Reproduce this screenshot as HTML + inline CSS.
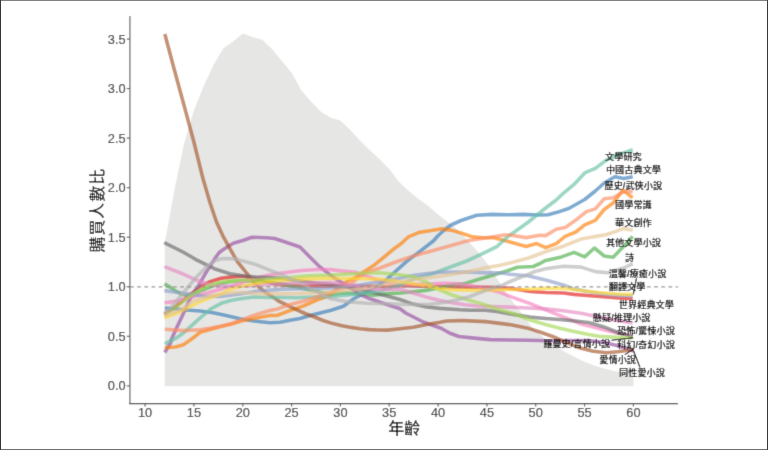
<!DOCTYPE html>
<html><head><meta charset="utf-8"><style>
html,body{margin:0;padding:0;background:#fff;}
#wrap{position:relative;width:768px;height:450px;overflow:hidden;background:#fff;}
svg{position:absolute;left:0;top:0;}
.tk{font-family:"Liberation Sans",Arial,sans-serif;font-size:12.8px;fill:#333;stroke:#333;stroke-width:0.12px;}
.lab{font-family:"Liberation Sans","Noto Sans CJK TC",sans-serif;font-size:9.2px;font-weight:700;fill:#111;}
.ttl{font-family:"Liberation Sans","Noto Sans CJK TC",sans-serif;font-size:16px;font-weight:500;fill:#000;}
.b{position:absolute;}
</style></head><body><div id="wrap">
<svg width="768" height="450" viewBox="0 0 768 450">
<defs><filter id="bl" x="0" y="0" width="768" height="450" filterUnits="userSpaceOnUse"><feConvolveMatrix order="3" kernelMatrix="0.01440 0.09120 0.01440 0.09120 0.57760 0.09120 0.01440 0.09120 0.01440" divisor="1" edgeMode="duplicate" preserveAlpha="false"/></filter></defs>
<g filter="url(#bl)">
<rect x="0" y="0" width="768" height="450" fill="#fff"/>
<polygon points="164.8,386.3 164.8,243.0 174.4,190.0 184.2,143.0 193.9,110.5 203.7,86.0 213.5,65.0 223.2,48.5 233.0,41.5 242.8,33.5 252.5,37.0 262.3,39.7 272.1,49.0 281.8,61.0 291.6,72.5 301.4,90.5 311.1,101.5 320.9,111.7 330.7,117.8 340.4,120.5 350.2,130.0 360.0,140.5 369.7,150.0 379.5,159.0 389.3,169.0 399.0,182.0 408.8,191.0 418.6,199.0 428.3,206.0 438.1,214.5 447.9,222.0 457.6,229.5 467.4,240.0 477.2,251.0 486.9,263.0 496.7,278.0 506.5,293.0 516.2,306.5 526.0,318.5 530.0,325.0 535.8,330.5 540.0,334.0 545.5,339.5 553.3,344.7 560.0,349.0 566.7,352.7 574.8,357.0 580.0,359.8 584.6,361.8 594.3,365.5 604.1,368.6 613.9,370.9 623.6,372.5 633.4,373.4 633.4,386.3" fill="#e6e6e5"/>
<polyline points="164.4,314.4 176.7,305.6 187.8,296.7 198.9,287.8 210.0,281.7 221.1,278.3 232.2,276.9 243.0,276.3 256.0,279.0 275.6,284.1 288.6,285.4 301.6,286.1 330.0,286.1 390.0,286.5 400.0,285.5 430.0,286.5 468.9,287.1 500.0,287.5 510.0,288.2 530.0,291.5 545.6,292.5 563.3,293.0 574.0,294.4 590.0,295.8 603.3,296.8 618.0,298.0 632.7,298.8" fill="none" stroke="#E41A1C" stroke-opacity="0.65" stroke-width="3.6" stroke-linejoin="round" stroke-linecap="butt"/>
<polyline points="164.7,308.0 175.6,309.0 186.7,310.0 200.0,311.0 213.3,312.7 226.0,315.5 240.0,318.7 253.8,321.0 270.0,322.7 280.0,322.3 290.0,320.3 300.0,318.5 310.0,315.5 320.0,313.0 331.1,310.2 343.3,306.2 350.0,301.5 354.2,298.5 366.7,292.0 380.9,284.0 390.5,275.8 406.7,261.3 420.9,250.7 433.3,241.0 438.7,235.0 445.6,229.0 451.1,225.0 461.1,220.5 476.7,215.2 492.2,214.4 507.8,214.8 523.3,214.4 540.0,215.0 548.0,214.8 556.2,212.6 568.7,208.5 584.7,199.5 595.3,191.0 604.2,183.0 614.9,176.8 623.8,178.5 632.7,176.8" fill="none" stroke="#377EB8" stroke-opacity="0.65" stroke-width="3.6" stroke-linejoin="round" stroke-linecap="butt"/>
<polyline points="164.4,283.9 171.1,287.8 176.7,291.7 182.2,294.4 187.8,295.4 194.0,294.2 200.0,291.2 215.0,285.0 228.0,282.0 240.0,280.8 255.0,281.0 270.0,282.2 285.0,284.5 299.0,287.8 315.0,291.0 331.0,294.2 347.0,292.7 357.8,294.0 373.0,295.3 387.8,293.6 400.0,293.0 413.0,291.7 426.0,290.4 440.0,287.5 451.1,285.3 465.1,283.5 478.1,279.5 486.7,277.0 500.0,273.0 506.7,271.0 517.3,267.3 533.3,266.5 540.0,263.5 545.6,260.4 561.6,256.9 574.0,252.4 584.7,256.9 594.4,248.0 604.2,256.0 613.1,257.2 623.8,246.2 632.7,236.4" fill="none" stroke="#4DAF4A" stroke-opacity="0.65" stroke-width="3.6" stroke-linejoin="round" stroke-linecap="butt"/>
<polyline points="164.7,352.5 170.5,343.0 171.7,338.8 177.0,327.0 182.7,315.0 188.0,303.0 193.0,293.5 197.7,287.0 202.1,279.3 206.6,271.5 210.1,266.0 214.6,259.0 219.0,252.7 222.6,250.0 230.0,245.3 233.3,243.2 242.7,240.5 252.0,237.2 266.7,237.7 274.7,238.5 286.7,242.5 300.0,247.0 309.8,256.9 318.7,265.8 327.6,272.9 334.7,278.2 348.9,286.7 359.6,294.3 370.2,298.8 380.9,302.5 387.8,304.8 400.0,308.8 405.6,313.0 423.3,322.0 441.1,328.2 450.0,333.2 458.9,336.5 476.7,338.4 490.0,339.6 509.5,340.0 529.1,340.2 548.6,340.8 568.1,340.6 587.7,340.6 603.3,342.2 618.9,346.1 633.6,351.0" fill="none" stroke="#984EA3" stroke-opacity="0.65" stroke-width="3.6" stroke-linejoin="round" stroke-linecap="butt"/>
<polyline points="164.7,347.8 175.6,347.0 183.4,344.7 191.3,339.2 200.0,332.5 200.4,332.3 210.8,329.2 221.2,326.6 231.7,324.0 242.1,320.8 252.5,318.8 262.9,316.7 270.0,315.4 276.7,315.5 290.0,310.5 303.3,306.0 316.7,300.0 330.0,295.5 338.3,287.5 347.2,281.6 356.1,277.1 365.0,270.9 374.8,264.7 383.0,258.0 393.3,249.3 401.3,243.5 408.4,236.9 419.1,232.4 429.8,230.7 440.4,228.9 451.1,230.1 461.8,233.3 472.4,236.9 483.1,237.8 493.8,237.8 504.4,240.4 510.0,242.0 526.0,246.6 536.7,243.6 545.6,247.6 556.2,243.6 565.1,236.4 575.8,232.0 584.7,224.9 595.3,220.4 604.2,209.5 613.1,203.0 622.9,190.1 632.7,197.8" fill="none" stroke="#FF7F00" stroke-opacity="0.65" stroke-width="3.6" stroke-linejoin="round" stroke-linecap="butt"/>
<polyline points="164.8,34.0 174.4,70.0 184.2,106.0 193.9,142.0 202.8,178.0 210.1,203.0 216.4,221.8 222.6,235.3 228.9,246.8 237.2,261.4 245.6,271.9 253.0,281.0 259.5,287.6 266.0,292.8 276.7,299.5 278.2,300.9 290.0,306.6 296.4,309.6 305.0,313.5 314.6,317.0 323.0,320.5 332.9,323.6 342.0,325.8 351.1,327.4 360.0,328.7 369.3,329.6 378.0,330.0 387.5,330.1 400.0,328.8 413.3,327.2 426.7,324.5 440.0,322.3 446.7,321.0 460.0,320.6 464.2,320.6 485.6,321.6 500.0,323.4 509.5,324.6 529.1,328.6 540.0,332.0 553.3,336.7 566.7,342.7 580.0,348.0 593.3,351.3 606.7,352.7 620.0,351.5 633.6,349.5" fill="none" stroke="#A65628" stroke-opacity="0.65" stroke-width="3.6" stroke-linejoin="round" stroke-linecap="butt"/>
<polyline points="164.4,302.8 176.7,301.1 187.8,298.3 198.9,295.0 210.0,292.2 221.1,288.9 232.2,286.0 243.0,282.0 256.0,278.0 269.0,275.0 282.0,273.0 301.6,270.5 318.0,269.5 330.0,269.5 343.0,271.1 356.0,272.4 369.0,277.0 382.0,281.5 400.0,284.5 432.6,283.9 445.6,283.2 458.6,283.9 471.6,285.8 484.6,288.4 500.0,292.3 510.0,296.4 527.8,302.7 545.6,309.8 563.3,316.9 581.1,324.0 598.9,328.4 616.7,332.9 632.7,335.6" fill="none" stroke="#F781BF" stroke-opacity="0.65" stroke-width="3.6" stroke-linejoin="round" stroke-linecap="butt"/>
<polyline points="164.2,242.6 183.0,252.0 195.5,259.3 214.3,268.7 230.0,273.7 243.0,275.7 256.0,277.0 269.0,277.6 283.0,278.5 300.0,281.0 320.0,283.5 340.0,285.5 353.0,288.5 370.0,291.8 387.8,296.2 400.0,299.5 413.0,304.1 426.7,307.0 440.0,308.4 460.0,309.8 470.0,310.2 485.0,310.3 497.0,311.5 510.0,314.0 530.0,317.1 545.6,318.5 559.3,319.5 575.0,321.0 588.6,322.5 603.3,326.7 618.0,332.5 632.7,336.9" fill="none" stroke="#6c6c6c" stroke-opacity="0.65" stroke-width="3.6" stroke-linejoin="round" stroke-linecap="butt"/>
<polyline points="164.7,343.9 175.6,338.4 183.4,333.0 191.3,325.9 200.4,317.7 210.8,308.9 221.2,303.3 231.7,300.2 242.0,298.5 253.8,297.0 269.4,297.5 282.0,297.2 295.6,297.7 331.1,296.4 357.8,294.0 380.0,291.0 400.0,285.0 415.6,278.2 433.3,273.5 451.1,266.8 466.7,261.0 486.7,251.7 497.3,246.3 506.7,237.5 520.0,228.0 527.8,222.5 545.6,208.0 556.2,200.0 563.3,193.3 574.0,184.4 584.7,172.9 595.3,168.4 606.0,160.4 616.7,155.1 632.7,149.8" fill="none" stroke="#66C2A5" stroke-opacity="0.65" stroke-width="3.6" stroke-linejoin="round" stroke-linecap="butt"/>
<polyline points="164.7,329.3 183.4,330.6 190.0,330.2 200.4,329.7 210.8,328.1 221.2,326.0 231.7,323.4 242.1,319.8 252.5,315.6 262.9,312.5 270.0,310.4 276.7,309.3 290.0,304.5 303.3,301.3 316.7,297.0 330.0,292.5 340.0,289.5 350.0,285.0 358.0,278.0 366.7,272.5 380.0,268.0 397.8,261.3 415.6,255.2 433.3,250.5 451.1,245.5 468.9,240.5 486.7,237.8 504.4,235.0 510.0,235.0 526.0,237.6 540.0,235.3 545.6,235.6 556.2,229.3 565.1,227.6 577.6,218.7 586.4,211.6 595.3,208.9 604.2,198.7 613.1,197.8 623.8,191.6 632.7,191.6" fill="none" stroke="#FC8D62" stroke-opacity="0.65" stroke-width="3.6" stroke-linejoin="round" stroke-linecap="butt"/>
<polyline points="164.4,290.6 176.7,292.2 187.8,293.9 204.4,296.2 221.1,296.5 240.0,294.0 256.0,291.3 282.0,289.3 330.0,288.0 360.0,285.0 390.0,280.0 413.0,275.4 439.0,272.2 468.9,272.0 486.7,272.9 500.0,272.8 510.0,274.3 527.8,275.8 545.6,280.0 563.3,284.9 572.2,288.4 590.0,292.0 607.8,294.7 623.8,295.6 632.7,296.0" fill="none" stroke="#8DA0CB" stroke-opacity="0.65" stroke-width="3.6" stroke-linejoin="round" stroke-linecap="butt"/>
<polyline points="164.4,266.6 180.0,272.7 193.3,278.7 202.2,282.2 213.3,285.5 233.0,286.5 246.7,286.0 260.0,284.9 295.6,283.3 331.1,282.5 350.0,285.0 366.7,288.4 380.0,289.5 400.0,289.1 413.0,293.0 426.0,296.9 439.0,300.2 452.0,302.8 465.1,304.7 478.1,306.0 500.0,306.8 510.0,307.1 527.8,308.0 545.6,308.9 563.3,310.7 581.1,313.3 598.9,316.9 616.7,320.4 632.7,323.1" fill="none" stroke="#E78AC3" stroke-opacity="0.65" stroke-width="3.6" stroke-linejoin="round" stroke-linecap="butt"/>
<polyline points="164.4,315.6 182.2,302.2 193.3,293.9 204.4,287.2 215.6,283.3 226.7,281.1 240.0,280.2 256.0,280.2 282.0,278.3 308.1,275.7 330.0,275.0 366.7,273.0 380.0,272.9 400.0,274.8 413.0,276.7 426.0,281.9 439.0,289.7 452.0,295.0 465.1,298.9 478.1,302.8 490.0,306.5 500.0,309.8 515.0,314.0 530.0,320.0 545.6,324.5 560.0,328.3 574.0,331.5 588.6,334.5 598.9,336.2 616.7,337.3 632.7,338.0" fill="none" stroke="#A6D854" stroke-opacity="0.65" stroke-width="3.6" stroke-linejoin="round" stroke-linecap="butt"/>
<polyline points="164.4,317.8 176.7,313.3 187.8,307.8 198.9,302.2 210.0,297.8 221.1,293.9 230.0,289.3 243.0,286.1 256.0,283.5 269.0,281.5 282.0,280.2 308.1,278.9 330.0,278.3 366.7,278.7 380.0,279.1 400.0,281.9 426.0,285.8 439.0,288.4 452.0,289.7 478.0,290.4 500.0,289.7 527.8,289.3 545.6,288.4 563.3,288.1 581.1,290.5 598.9,292.5 616.7,294.0 632.7,294.4" fill="none" stroke="#FFD92F" stroke-opacity="0.65" stroke-width="3.6" stroke-linejoin="round" stroke-linecap="butt"/>
<polyline points="164.4,316.0 180.0,310.0 193.3,301.1 210.0,296.0 225.0,293.5 240.0,292.2 260.0,293.8 295.6,293.8 331.1,292.0 360.0,289.0 390.0,284.0 415.6,279.1 433.3,277.3 451.1,274.5 468.9,271.5 486.7,267.5 500.0,265.3 510.0,263.0 520.0,260.3 527.8,258.3 540.0,253.7 545.6,251.6 563.3,246.2 581.1,239.1 595.3,236.4 606.0,234.7 616.7,231.1 623.8,228.4 632.7,230.2" fill="none" stroke="#E5C494" stroke-opacity="0.65" stroke-width="3.6" stroke-linejoin="round" stroke-linecap="butt"/>
<polyline points="164.4,312.8 170.0,308.7 178.9,298.0 187.8,287.4 196.7,276.7 205.6,267.8 214.5,260.7 222.6,258.5 235.2,258.9 243.0,261.0 256.0,264.6 269.0,269.8 282.0,275.0 296.7,281.5 308.1,287.0 316.7,291.5 330.0,298.5 340.0,300.5 350.0,302.0 366.7,303.3 390.0,303.8 405.6,304.5 430.0,304.2 445.0,302.3 456.7,300.0 470.0,296.5 483.3,291.3 493.0,288.0 500.0,286.3 507.8,282.5 515.0,279.5 525.6,275.3 535.0,271.5 545.6,268.8 563.3,266.2 581.1,267.1 595.3,271.6 607.8,272.8 623.8,268.0 632.7,263.6" fill="none" stroke="#B3B3B3" stroke-opacity="0.65" stroke-width="3.6" stroke-linejoin="round" stroke-linecap="butt"/>
<line x1="130" y1="286.8" x2="678" y2="286.8" stroke="#959595" stroke-width="1.15" stroke-dasharray="3.7,3.48"/>
<line x1="636.5" y1="278.2" x2="633.3" y2="294.4" stroke="#000" stroke-width="1.1"/>
<line x1="611.5" y1="340.2" x2="633.3" y2="337.8" stroke="#000" stroke-width="1.1"/>
<line x1="624.8" y1="354.6" x2="633.5" y2="349.2" stroke="#000" stroke-width="1.1"/>
<line x1="633.5" y1="350.8" x2="640" y2="367.5" stroke="#000" stroke-width="1.1"/>
<text x="623.4" y="160.3" text-anchor="middle" class="lab">文學研究</text>
<text x="633.5" y="173.0" text-anchor="middle" class="lab">中國古典文學</text>
<text x="633.3" y="188.9" text-anchor="middle" class="lab">歷史/武俠小說</text>
<text x="633.4" y="208.2" text-anchor="middle" class="lab">國學常識</text>
<text x="633.4" y="226.3" text-anchor="middle" class="lab">華文創作</text>
<text x="633.5" y="246.0" text-anchor="middle" class="lab">其他文學小說</text>
<text x="629.5" y="260.9" text-anchor="middle" class="lab">詩</text>
<text x="637.5" y="276.9" text-anchor="middle" class="lab">溫馨/療癒小說</text>
<text x="627.1" y="289.9" text-anchor="middle" class="lab">翻譯文學</text>
<text x="646.4" y="307.6" text-anchor="middle" class="lab">世界經典文學</text>
<text x="621.7" y="320.8" text-anchor="middle" class="lab">懸疑/推理小說</text>
<text x="646.0" y="334.1" text-anchor="middle" class="lab">恐怖/驚悚小說</text>
<text x="576.7" y="347.3" text-anchor="middle" class="lab">羅曼史/言情小說</text>
<text x="646.0" y="347.7" text-anchor="middle" class="lab">科幻/奇幻小說</text>
<text x="617.7" y="362.5" text-anchor="middle" class="lab">愛情小說</text>
<text x="642.0" y="376.4" text-anchor="middle" class="lab">同性愛小說</text>
<line x1="129.9" y1="15.9" x2="129.9" y2="403.5" stroke="#8a8a8a" stroke-width="1.6"/>
<line x1="129.1" y1="403.7" x2="678" y2="403.7" stroke="#3a3a3a" stroke-width="1.3"/>
<line x1="126.8" y1="385.9" x2="129.9" y2="385.9" stroke="#555" stroke-width="1.1"/>
<text x="125.6" y="390.4" text-anchor="end" class="tk">0.0</text>
<line x1="126.8" y1="336.3" x2="129.9" y2="336.3" stroke="#555" stroke-width="1.1"/>
<text x="125.6" y="340.8" text-anchor="end" class="tk">0.5</text>
<line x1="126.8" y1="286.8" x2="129.9" y2="286.8" stroke="#555" stroke-width="1.1"/>
<text x="125.6" y="291.3" text-anchor="end" class="tk">1.0</text>
<line x1="126.8" y1="237.2" x2="129.9" y2="237.2" stroke="#555" stroke-width="1.1"/>
<text x="125.6" y="241.8" text-anchor="end" class="tk">1.5</text>
<line x1="126.8" y1="187.7" x2="129.9" y2="187.7" stroke="#555" stroke-width="1.1"/>
<text x="125.6" y="192.2" text-anchor="end" class="tk">2.0</text>
<line x1="126.8" y1="138.1" x2="129.9" y2="138.1" stroke="#555" stroke-width="1.1"/>
<text x="125.6" y="142.6" text-anchor="end" class="tk">2.5</text>
<line x1="126.8" y1="88.6" x2="129.9" y2="88.6" stroke="#555" stroke-width="1.1"/>
<text x="125.6" y="93.1" text-anchor="end" class="tk">3.0</text>
<line x1="126.8" y1="39.1" x2="129.9" y2="39.1" stroke="#555" stroke-width="1.1"/>
<text x="125.6" y="43.6" text-anchor="end" class="tk">3.5</text>
<line x1="145.1" y1="403.4" x2="145.1" y2="406.6" stroke="#555" stroke-width="1.1"/>
<text x="145.1" y="417.1" text-anchor="middle" class="tk">10</text>
<line x1="193.9" y1="403.4" x2="193.9" y2="406.6" stroke="#555" stroke-width="1.1"/>
<text x="193.9" y="417.1" text-anchor="middle" class="tk">15</text>
<line x1="242.8" y1="403.4" x2="242.8" y2="406.6" stroke="#555" stroke-width="1.1"/>
<text x="242.8" y="417.1" text-anchor="middle" class="tk">20</text>
<line x1="291.6" y1="403.4" x2="291.6" y2="406.6" stroke="#555" stroke-width="1.1"/>
<text x="291.6" y="417.1" text-anchor="middle" class="tk">25</text>
<line x1="340.4" y1="403.4" x2="340.4" y2="406.6" stroke="#555" stroke-width="1.1"/>
<text x="340.4" y="417.1" text-anchor="middle" class="tk">30</text>
<line x1="389.2" y1="403.4" x2="389.2" y2="406.6" stroke="#555" stroke-width="1.1"/>
<text x="389.2" y="417.1" text-anchor="middle" class="tk">35</text>
<line x1="438.1" y1="403.4" x2="438.1" y2="406.6" stroke="#555" stroke-width="1.1"/>
<text x="438.1" y="417.1" text-anchor="middle" class="tk">40</text>
<line x1="486.9" y1="403.4" x2="486.9" y2="406.6" stroke="#555" stroke-width="1.1"/>
<text x="486.9" y="417.1" text-anchor="middle" class="tk">45</text>
<line x1="535.7" y1="403.4" x2="535.7" y2="406.6" stroke="#555" stroke-width="1.1"/>
<text x="535.7" y="417.1" text-anchor="middle" class="tk">50</text>
<line x1="584.6" y1="403.4" x2="584.6" y2="406.6" stroke="#555" stroke-width="1.1"/>
<text x="584.6" y="417.1" text-anchor="middle" class="tk">55</text>
<line x1="633.4" y1="403.4" x2="633.4" y2="406.6" stroke="#555" stroke-width="1.1"/>
<text x="633.4" y="417.1" text-anchor="middle" class="tk">60</text>
<text x="404.2" y="434" text-anchor="middle" class="ttl">年齡</text>
<text transform="translate(102.5,210.2) rotate(-90)" text-anchor="middle" class="ttl" letter-spacing="0.9">購買人數比</text>
</g>
<rect x="0" y="0" width="768" height="1" fill="#828282"/>
<rect x="0" y="449" width="768" height="1" fill="#6e6e6e"/>
<rect x="0" y="0" width="1" height="450" fill="#363636"/>
<rect x="767" y="0" width="1" height="450" fill="#3a3a3a"/>
</svg>
</div></body></html>
